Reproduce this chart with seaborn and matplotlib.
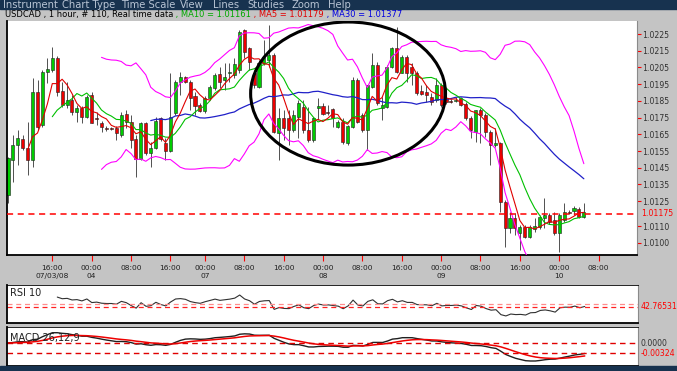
import matplotlib
matplotlib.use("Agg")
import matplotlib.pyplot as plt
from matplotlib.patches import Ellipse, Rectangle
import numpy as np
import pandas as pd
import seaborn as sns

# hourly USDCAD candles
opens = [
    1.01287, 1.01496, 1.01586, 1.01622, 1.01568, 1.01496, 1.01903, 1.01706, 1.02023, 1.02035,
    1.02106, 1.01909, 1.01825, 1.01855, 1.01784, 1.01807, 1.01754, 1.01885, 1.01748, 1.01718,
    1.01688, 1.01688, 1.01688, 1.01646, 1.01772, 1.01724, 1.01622, 1.01502, 1.01718, 1.01538,
    1.01568, 1.01748, 1.01598, 1.01550, 1.01778, 1.01963, 1.01993, 1.01963, 1.01879, 1.01825,
    1.01789, 1.01867, 1.01927, 1.02011, 1.01975, 1.02017, 1.02005, 1.02035, 1.02274, 1.02166,
    1.02017, 1.01933, 1.02077, 1.02094, 1.02124, 1.01658, 1.01748, 1.01748, 1.01676, 1.01754,
    1.01813, 1.01676, 1.01616, 1.01807, 1.01819, 1.01784, 1.01801, 1.01694, 1.01724, 1.01598,
    1.01694, 1.01975, 1.01766, 1.01676, 1.01933, 1.02065, 1.01807, 1.01813, 1.02053, 1.02166,
    1.02017, 1.02112, 1.02053, 1.02017, 1.01909, 1.01903, 1.01873, 1.01855, 1.01945, 1.01867,
    1.01849, 1.01849, 1.01867, 1.01831, 1.01748, 1.01664, 1.01795, 1.01766, 1.01664, 1.01586,
    1.01598, 1.01245, 1.01090, 1.01150, 1.01060, 1.01096, 1.01036, 1.01084, 1.01096, 1.01150,
    1.01168, 1.01138, 1.01060, 1.01138, 1.01185, 1.01191, 1.01203, 1.01156,
]
highs = [
    1.01512, 1.01646, 1.01676, 1.01646, 1.01724, 1.01987, 1.01975, 1.02035, 1.02106, 1.02172,
    1.02118, 1.01963, 1.01963, 1.01885, 1.01825, 1.01819, 1.01885, 1.01903, 1.01784, 1.01730,
    1.01700, 1.01694, 1.01700, 1.01784, 1.01795, 1.01766, 1.01646, 1.01724, 1.01724, 1.01604,
    1.01754, 1.01754, 1.01628, 1.02017, 1.01975, 1.02023, 1.01999, 1.01975, 1.01903, 1.01837,
    1.01879, 1.01945, 1.02017, 1.02053, 1.02077, 1.02077, 1.02106, 1.02274, 1.02280, 1.02172,
    1.02035, 1.02094, 1.02214, 1.02304, 1.02136, 1.01807, 1.01795, 1.01795, 1.01795, 1.01855,
    1.01855, 1.01813, 1.01754, 1.01867, 1.01837, 1.01825, 1.01807, 1.01736, 1.01748, 1.01706,
    1.01993, 1.01987, 1.01778, 1.01945, 1.02136, 1.02083, 1.01873, 1.02065, 1.02172, 1.02292,
    1.02124, 1.02124, 1.02077, 1.02029, 1.01945, 1.01945, 1.01897, 1.01987, 1.01957, 1.01879,
    1.01861, 1.01873, 1.01873, 1.01843, 1.01760, 1.01795, 1.01807, 1.01778, 1.01676, 1.01688,
    1.01604, 1.01257, 1.01185, 1.01180, 1.01108, 1.01108, 1.01108, 1.01150, 1.01168, 1.01269,
    1.01180, 1.01185, 1.01180, 1.01239, 1.01197, 1.01221, 1.01215, 1.01239,
]
lows = [
    1.01239, 1.01365, 1.01467, 1.01556, 1.01407, 1.01455, 1.01676, 1.01694, 1.01957, 1.02023,
    1.01879, 1.01813, 1.01807, 1.01766, 1.01724, 1.01718, 1.01748, 1.01718, 1.01706, 1.01664,
    1.01670, 1.01676, 1.01616, 1.01634, 1.01688, 1.01568, 1.01395, 1.01496, 1.01526, 1.01455,
    1.01562, 1.01610, 1.01496, 1.01544, 1.01766, 1.01885, 1.01957, 1.01795, 1.01766, 1.01784,
    1.01778, 1.01855, 1.01915, 1.01927, 1.01915, 1.01963, 1.01987, 1.02017, 1.02106, 1.02035,
    1.01927, 1.01927, 1.02065, 1.02053, 1.01658, 1.01496, 1.01616, 1.01586, 1.01664, 1.01628,
    1.01658, 1.01604, 1.01604, 1.01736, 1.01766, 1.01766, 1.01694, 1.01688, 1.01592, 1.01586,
    1.01688, 1.01718, 1.01664, 1.01556, 1.01927, 1.01825, 1.01736, 1.01807, 1.02047, 1.02017,
    1.02017, 1.01963, 1.01945, 1.01885, 1.01885, 1.01843, 1.01825, 1.01843, 1.01813, 1.01831,
    1.01837, 1.01843, 1.01819, 1.01736, 1.01628, 1.01604, 1.01598, 1.01634, 1.01467, 1.01574,
    1.01185, 1.00976, 1.01060, 1.01048, 1.00958, 1.01030, 1.01030, 1.01066, 1.01084, 1.01090,
    1.01114, 1.01048, 1.00946, 1.01126, 1.01174, 1.01168, 1.01150, 1.01150,
]
closes = [
    1.01508, 1.01586, 1.01628, 1.01568, 1.01496, 1.01903, 1.01694, 1.02023, 1.02041, 1.02106,
    1.01903, 1.01825, 1.01855, 1.01784, 1.01807, 1.01754, 1.01873, 1.01718, 1.01742, 1.01694,
    1.01682, 1.01682, 1.01658, 1.01766, 1.01724, 1.01616, 1.01502, 1.01718, 1.01538, 1.01568,
    1.01730, 1.01622, 1.01550, 1.01754, 1.01963, 1.01993, 1.01963, 1.01867, 1.01819, 1.01789,
    1.01867, 1.01933, 1.02005, 1.01963, 1.01993, 1.02023, 1.02071, 1.02262, 1.02142, 1.02083,
    1.01945, 1.02077, 1.02112, 1.02124, 1.01664, 1.01748, 1.01688, 1.01676, 1.01766, 1.01837,
    1.01676, 1.01616, 1.01748, 1.01819, 1.01772, 1.01778, 1.01748, 1.01724, 1.01604, 1.01700,
    1.01975, 1.01724, 1.01676, 1.01945, 1.02065, 1.01837, 1.01825, 1.02053, 1.02166, 1.02023,
    1.02112, 1.02017, 1.02017, 1.01897, 1.01891, 1.01885, 1.01843, 1.01945, 1.01825, 1.01843,
    1.01843, 1.01855, 1.01825, 1.01748, 1.01676, 1.01795, 1.01766, 1.01664, 1.01586, 1.01598,
    1.01245, 1.01090, 1.01150, 1.01090, 1.01096, 1.01036, 1.01096, 1.01102, 1.01156, 1.01168,
    1.01126, 1.01060, 1.01168, 1.01185, 1.01180, 1.01209, 1.01156, 1.01185,
]

# x axis: bar index of each time label
tick_bars = [9, 17, 25, 33, 40, 48, 56, 64, 72, 80, 88, 96, 104, 112, 120]
tick_labels = ["16:00\n07/03/08", "00:00\n04", "08:00", "16:00", "00:00\n07",
               "08:00", "16:00", "00:00\n08", "08:00", "16:00", "00:00\n09",
               "08:00", "16:00", "00:00\n10", "08:00"]
price_ticks = [1.0225, 1.0215, 1.0205, 1.0195, 1.0185, 1.0175, 1.0165,
               1.0155, 1.0145, 1.0135, 1.0125, 1.0110, 1.0100]
last_price = 1.01175
rsi_mid = 50
rsi_last = 42.76531
macd_last_label = "-0.00324"

menu_items = ["Instrument", "Chart Type", "Time Scale", "View", "Lines",
              "Studies", "Zoom", "Help"]
title_parts = [("USDCAD , 1 hour, # 110, Real time data", "#000000"),
               (" , MA10 = 1.01161", "#00a800"),
               (" , MA5 = 1.01179", "#e00000"),
               (" , MA30 = 1.01377", "#0000e0")]

# circled area (bars / prices)
circle_bars = (49.3, 88.9)
circle_prices = (1.01466, 1.02322)

W, H = 677, 371
GREY = "#c4c4c4"
NAVY = "#17324f"

sns.set_style("white")
plt.rcParams["font.family"] = ["DejaVu Sans"]

df = pd.DataFrame({"open": opens, "high": highs, "low": lows, "close": closes})
df["bar"] = np.arange(len(df))
close = df["close"]
df["ma5"] = close.rolling(5).mean()
df["ma10"] = close.rolling(10).mean()
df["ma30"] = close.rolling(30).mean()
mid = close.rolling(20).mean()
sd = close.rolling(20).std(ddof=0)
df["bb_up"] = mid + 2 * sd
df["bb_lo"] = mid - 2 * sd
# Wilder RSI, 10 periods
delta = close.diff()
gain = delta.clip(lower=0).ewm(alpha=1 / 10, min_periods=10, adjust=False).mean()
loss = (-delta.clip(upper=0)).ewm(alpha=1 / 10, min_periods=10, adjust=False).mean()
df["rsi"] = 100 - 100 / (1 + gain / loss)
ema12 = close.ewm(span=12, adjust=False).mean()
ema26 = close.ewm(span=26, adjust=False).mean()
df["macd"] = ema12 - ema26
df["signal"] = df["macd"].ewm(span=9, adjust=False).mean()

fig = plt.figure(figsize=(W / 100, H / 100), dpi=100, facecolor=GREY)


def px_axes(left, top, right, bottom):
    return fig.add_axes([left / W, 1 - bottom / H, (right - left) / W, (bottom - top) / H])


def style_panel(ax):
    ax.set_facecolor("white")
    for side in ["left", "bottom", "top"]:
        ax.spines[side].set_color("black")
    ax.spines["left"].set_linewidth(1.3)
    ax.spines["bottom"].set_linewidth(1.3)
    ax.spines["top"].set_linewidth(0.6)
    ax.spines["right"].set_color("#8a8a8a")
    ax.spines["right"].set_linewidth(0.8)
    ax.set_xlim(-0.2, 127.8)


# window chrome
fig.patches.append(Rectangle((0, 1 - 9 / H), 1, 9 / H, transform=fig.transFigure,
                             color=NAVY, zorder=0))
fig.patches.append(Rectangle((0, 0), 1, 5 / H, transform=fig.transFigure,
                             color=NAVY, zorder=0))
menu_x = [3, 62, 121, 180, 213, 247, 291, 328]
for name, mx in zip(menu_items, menu_x):
    fig.text(mx / W, 1 - 8 / H, name, color="#b8c4d4", fontsize=7.2, va="baseline")

renderer = fig.canvas.get_renderer()
tx = 5 / W
for txt, col in title_parts:
    t = fig.text(tx, 1 - 14.5 / H, txt, color=col, fontsize=6.0, va="center")
    tx = t.get_window_extent(renderer).x1 / W

# price panel
ax = px_axes(7, 21, 637, 255)
style_panel(ax)
ax.spines["top"].set_visible(False)
ax.set_ylim(1.00928, 1.02328)

up = df["close"] >= df["open"]
body_lo = df[["open", "close"]].min(axis=1)
body_h = (df["close"] - df["open"]).abs().clip(lower=0.00003)
ax.vlines(df["bar"], df["low"], df["high"], color="#505050", lw=0.7, zorder=2)
ax.bar(df["bar"], body_h, bottom=body_lo, width=0.62,
       color=np.where(up, "#00cc00", "#ee0000"), edgecolor="#202020",
       linewidth=0.4, zorder=2)

for col, color, lw in [("bb_up", "#ff00ff", 0.8), ("bb_lo", "#ff00ff", 0.8),
                       ("ma30", "#2020c8", 0.9), ("ma10", "#00c000", 0.8),
                       ("ma5", "#e00000", 0.8)]:
    sns.lineplot(data=df, x="bar", y=col, ax=ax, color=color, linewidth=lw,
                 legend=False, zorder=3)

ax.axhline(last_price, color="#ff0000", lw=1.1, ls=(0, (4, 3)), zorder=4)
ax.add_patch(Ellipse(((circle_bars[0] + circle_bars[1]) / 2,
                      (circle_prices[0] + circle_prices[1]) / 2),
                     circle_bars[1] - circle_bars[0],
                     circle_prices[1] - circle_prices[0],
                     fill=False, ec="black", lw=2.2, zorder=5))

ax.yaxis.tick_right()
ax.set_yticks(price_ticks)
ax.set_yticklabels([f"{v:.4f}" for v in price_ticks])
ax.tick_params(axis="y", direction="out", length=3, width=0.8, color="red",
               labelcolor="#303030", labelsize=5.6, pad=1, right=True, left=False)
ax.annotate(f"{last_price:.5f}", xy=(1, last_price), xycoords=("axes fraction", "data"),
            xytext=(3, 0), textcoords="offset points", color="red", fontsize=5.6,
            va="center", annotation_clip=False)
ax.set_xticks(tick_bars)
ax.set_xticklabels(tick_labels, linespacing=1.5)
ax.tick_params(axis="x", direction="out", length=4, width=0.8, color="red",
               labelcolor="#202020", labelsize=5.4, pad=3, bottom=True)
ax.set_xlabel("")
ax.set_ylabel("")

# RSI panel
ax_rsi = px_axes(7, 285, 638, 323)
style_panel(ax_rsi)
ax_rsi.set_ylim(0, 100)
sns.lineplot(data=df, x="bar", y="rsi", ax=ax_rsi, color="#303030", linewidth=0.8,
             legend=False)
ax_rsi.axhline(rsi_mid, color="#ff8c8c", lw=0.9, ls=(0, (4, 3)))
ax_rsi.axhline(rsi_last, color="#ff2020", lw=0.9, ls=(0, (4, 3)))
ax_rsi.annotate(f"{rsi_last:.5f}", xy=(1, rsi_last), xycoords=("axes fraction", "data"),
                xytext=(2, 0), textcoords="offset points", color="red", fontsize=5.6,
                va="center", annotation_clip=False)
ax_rsi.text(3 / 631, 0.78, "RSI 10", transform=ax_rsi.transAxes, fontsize=7,
            va="center", color="#202020")
ax_rsi.set_xticks([])
ax_rsi.set_yticks([])
ax_rsi.set_xlabel("")
ax_rsi.set_ylabel("")

# MACD panel: zero line 16 px below the top, lowest value 18 px under zero
ax_macd = px_axes(7, 327, 638, 366)
style_panel(ax_macd)
macd_lo = min(df["macd"].min(), df["signal"].min())
macd_hi = max(df["macd"].max(), df["signal"].max())
unit = -macd_lo / 18
ax_macd.set_ylim(-23 * unit, max(16 * unit, macd_hi * 1.15))
sns.lineplot(data=df, x="bar", y="macd", ax=ax_macd, color="#202020", linewidth=1.0,
             legend=False)
sns.lineplot(data=df, x="bar", y="signal", ax=ax_macd, color="#ee0000", linewidth=1.1,
             legend=False)
macd_end = df["macd"].iloc[-1]
ax_macd.axhline(0, color="#e00000", lw=1.0, ls=(0, (4, 3)))
ax_macd.axhline(macd_end, color="#e00000", lw=1.0, ls=(0, (4, 3)))
ax_macd.annotate("0.0000", xy=(1, 0), xycoords=("axes fraction", "data"),
                 xytext=(2, 0), textcoords="offset points", color="#303030",
                 fontsize=5.6, va="center", annotation_clip=False)
ax_macd.annotate(macd_last_label, xy=(1, macd_end), xycoords=("axes fraction", "data"),
                 xytext=(2, 0), textcoords="offset points", color="red",
                 fontsize=5.6, va="center", annotation_clip=False)
ax_macd.text(3 / 631, 0.72, "MACD 26,12,9", transform=ax_macd.transAxes, fontsize=7,
             va="center", color="#202020")
ax_macd.set_xticks([])
ax_macd.set_yticks([])
ax_macd.set_xlabel("")
ax_macd.set_ylabel("")

fig.savefig("out.png", dpi=100, facecolor=GREY)
